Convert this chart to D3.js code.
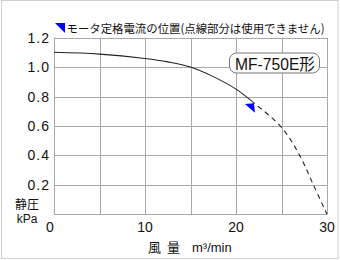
<!DOCTYPE html>
<html><head><meta charset="utf-8">
<script src="https://cdn.jsdelivr.net/npm/d3@7"></script>
<style>
body{margin:0;background:#fff;}
text{font-family:"Liberation Sans","Noto Sans CJK JP",sans-serif;}
.jp{font-family:"Noto Sans CJK JP",sans-serif;}
</style></head>
<body><svg id="c" width="340" height="260"></svg>
<script>
// data
const xTicks = [0, 10, 20, 30];
const yTicks = [0.2, 0.4, 0.6, 0.8, 1.0, 1.2];
const yTickLabels = ["0.2", "0.4", "0.6", "0.8", "1.0", "1.2"];
const curveFlow = [0, 5, 10, 12.5, 15, 17.5, 20, 21.8, 25, 27, 28.5, 30];
const curvePressure = [1.10, 1.088, 1.058, 1.035, 1.0, 0.935, 0.85, 0.765, 0.59, 0.40, 0.20, 0];
const ratedFlow = 21.8;
const ratedPressure = 0.765;
const legendText = "モータ定格電流の位置(点線部分は使用できません)";
const modelName = "MF-750E形";

const svg = d3.select("#c");
const x = d3.scaleLinear().domain([0, 30]).range([54, 327]);
const y = d3.scaleLinear().domain([0, 1.2]).range([214.3, 37.6]);
const gridColor = "#a8a8a8";

// outer border
svg.append("rect").attr("x", 1.5).attr("y", 0.5).attr("width", 336.5).attr("height", 258)
  .attr("fill", "none").attr("stroke", "#cfcfcf");

// grid
const g = svg.append("g");
d3.range(0, 31, 5).forEach(v => {
  g.append("line").attr("x1", Math.round(x(v)) + 0.5).attr("x2", Math.round(x(v)) + 0.5)
    .attr("y1", y(1.2)).attr("y2", y(0)).attr("stroke", gridColor);
});
d3.range(0, 7).map(i => i * 0.2).forEach(v => {
  g.append("line").attr("y1", Math.round(y(v)) + 0.5).attr("y2", Math.round(y(v)) + 0.5)
    .attr("x1", x(0)).attr("x2", x(30)).attr("stroke", gridColor);
});

// y tick labels
svg.selectAll(".yl").data(yTicks).enter().append("text")
  .attr("x", 50).attr("y", d => y(d) + 5).attr("text-anchor", "end")
  .attr("font-size", 14).attr("letter-spacing", 1).attr("fill", "#111")
  .text((d, i) => yTickLabels[i]);

// x tick labels
svg.selectAll(".xl").data(xTicks).enter().append("text")
  .attr("x", d => x(d) - (d === 0 ? 4 : 0)).attr("y", 232).attr("text-anchor", "middle")
  .attr("font-size", 14).attr("fill", "#111").text(d => d);

// curve: one smooth path, solid up to rated point, dashed beyond
const pts = curveFlow.map((f, i) => [f, curvePressure[i]]);
const line = d3.line().x(d => x(d[0])).y(d => y(d[1])).curve(d3.curveCatmullRom.alpha(0.5));
const defs = svg.append("defs");
defs.append("clipPath").attr("id", "cs").append("rect")
  .attr("x", 0).attr("y", 0).attr("width", x(ratedFlow)).attr("height", 260);
defs.append("clipPath").attr("id", "cd").append("rect")
  .attr("x", x(ratedFlow)).attr("y", 0).attr("width", 340 - x(ratedFlow)).attr("height", 260);
svg.append("path").attr("d", line(pts)).attr("clip-path", "url(#cs)")
  .attr("fill", "none").attr("stroke", "#222").attr("stroke-width", 1.1);
svg.append("path").attr("d", line(pts)).attr("clip-path", "url(#cd)")
  .attr("fill", "none").attr("stroke", "#222").attr("stroke-width", 1.1).attr("stroke-dasharray", "5,4");

// rated marker
const px = x(ratedFlow), py = y(ratedPressure);
svg.append("path").attr("d", `M${px-7.5},${py+2.3}L${px+1.6},${py+1.6}L${px+2.6},${py+11}Z`).attr("fill", "#0000ff");

// legend
svg.append("path").attr("d", "M55,23L65,23L65,33Z").attr("fill", "#0000ff");
svg.append("text").attr("class", "jp").attr("x", 66.5).attr("y", 33).attr("font-size", 11.8)
  .attr("textLength", 258).attr("lengthAdjust", "spacingAndGlyphs").attr("fill", "#111").text(legendText);

// model box
svg.append("rect").attr("x", 229.5).attr("y", 53).attr("width", 90).attr("height", 20).attr("rx", 7)
  .attr("fill", "#fff").attr("stroke", "#777");
svg.append("text").attr("x", 235).attr("y", 69.5).attr("font-size", 16)
  .attr("font-family", "'Liberation Mono','Noto Sans CJK JP',monospace")
  .attr("textLength", 80).attr("lengthAdjust", "spacingAndGlyphs").attr("fill", "#111").text(modelName);

// axis titles
svg.append("text").attr("class", "jp").attr("x", 27).attr("y", 209).attr("text-anchor", "middle")
  .attr("font-size", 12).attr("fill", "#111").text("静圧");
svg.append("text").attr("x", 27).attr("y", 222.5).attr("text-anchor", "middle")
  .attr("font-size", 12).attr("fill", "#111").text("kPa");
svg.append("text").attr("class", "jp").attr("x", 148).attr("y", 252).attr("font-size", 13).attr("fill", "#111").text("風");
svg.append("text").attr("class", "jp").attr("x", 167).attr("y", 252).attr("font-size", 13).attr("fill", "#111").text("量");
svg.append("text").attr("x", 192).attr("y", 252).attr("font-size", 13).attr("fill", "#111").text("m³/min");
</script></body></html>
